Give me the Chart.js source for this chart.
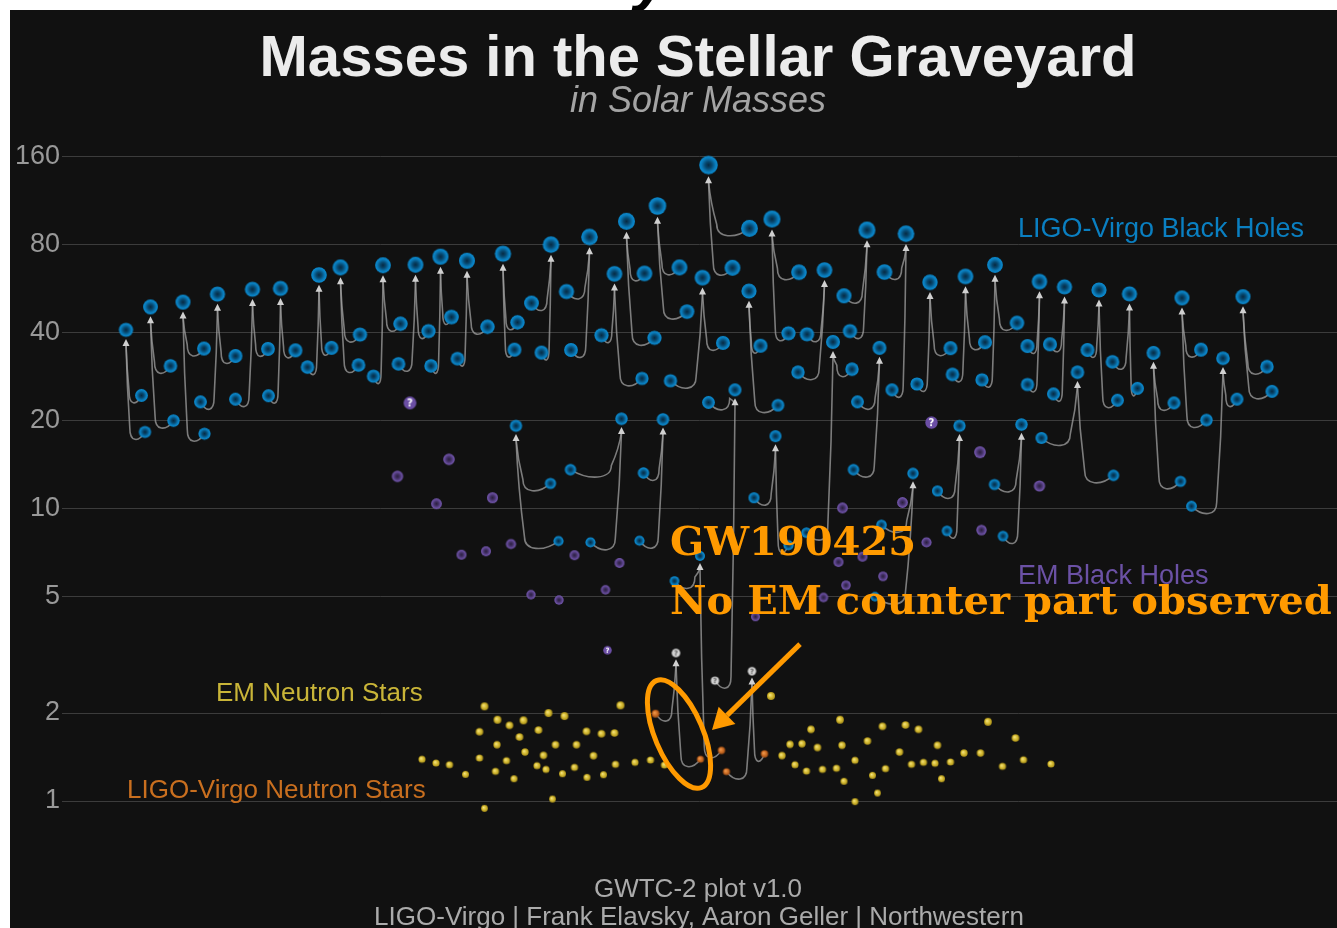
<!DOCTYPE html>
<html>
<head>
<meta charset="utf-8">
<title>Masses in the Stellar Graveyard</title>
<script src="https://cdn.jsdelivr.net/npm/chart.js@4.4.1/dist/chart.umd.min.js"></script>
<style>
  html, body { margin: 0; padding: 0; background: #fff; overflow: hidden; }
  #heading { position: absolute; left: 0; top: 0; width: 1337px; height: 10px; overflow: hidden; }
  #heading span { position: absolute; left: 634px; top: -53px; font: italic bold 62px/62px "Liberation Sans", Arial, sans-serif; color: #000; }
  #wrap { position: absolute; left: 10px; top: 10px; width: 1327px; height: 918px; background: #111; }
  canvas { display: block; }
</style>
</head>
<body>
<div id="heading"><span>y</span></div>
<div id="wrap"><canvas id="graveyard" width="1327" height="918"></canvas></div>
<script>
// y axis ticks (solar masses, log scale)
const massTicks = [1, 2, 5, 10, 20, 40, 80, 160];

// LIGO-Virgo mergers: remnant + the two objects that merged (x = slot in the catalogue)
const mergerFinalX = [12.8, 17.7, 24.2, 31.1, 38.1, 43.7, 51.4, 55.7, 64.2, 70.7, 75.7, 81.0, 88.2, 90.8, 97.8, 105.5, 110.5, 111.9, 112.9, 119.1, 120.2, 122.8, 127.6, 128.1, 129.3, 134.6, 137.4, 138.0, 142.0, 142.7, 152.5, 154.2, 161.0, 163.5, 168.8, 170.2, 173.6, 179.5, 180.7, 186.6, 191.9, 195.5, 200.5, 203.1, 207.4, 213.5, 218.3, 224.0, 232.2, 236.2];
const mergerFinalMass = [40.9, 49.0, 50.9, 54.2, 56.3, 56.7, 63.0, 66.9, 68.0, 68.3, 72.8, 70.5, 74.5, 19.2, 80.0, 85.0, 63.6, 20.3, 96.2, 108.5, 20.2, 3.21, 6.89, 61.7, 149.8, 25.5, 55.5, 2.78, 97.9, 17.7, 65.5, 37.2, 89.8, 35.5, 87.2, 13.2, 59.5, 19.2, 62.3, 68.2, 19.4, 59.8, 57.4, 29.3, 56.0, 54.3, 34.1, 52.6, 32.7, 53.1];
const componentAX = [15.9, 21.7, 28.4, 27.7, 34.7, 41.3, 49.1, 59.6, 62.3, 67.3, 73.8, 79.1, 91.1, 97.7, 93.9, 100.9, 107.9, 101.7, 116.5, 123.5, 116.3, 118.7, 122.5, 121.7, 137.5, 129.3, 139.7, 140.5, 147.4, 138.4, 149.0, 158.0, 156.4, 159.1, 164.5, 163.9, 177.7, 175.1, 184.6, 191.0, 186.5, 193.1, 197.6, 195.9, 205.1, 210.1, 222.4, 227.8, 235.0, 241.0];
const componentAMass = [24.4, 30.8, 35.3, 23.2, 23.7, 24.35, 30.5, 39.4, 28.4, 31.3, 30.8, 32.6, 43.4, 12.2, 50.5, 55.3, 39.2, 13.6, 63.8, 66.9, 13.25, 1.99, 5.66, 27.4, 91.0, 23.1, 36.1, 1.45, 64.4, 10.9, 39.5, 30.0, 53.5, 23.2, 64.5, 8.8, 35.4, 11.5, 37.1, 43.2, 12.1, 36.0, 36.5, 17.45, 34.9, 31.8, 23.0, 35.0, 23.7, 30.6];
const componentBX = [16.6, 22.3, 28.5, 34.7, 41.2, 46.7, 53.9, 59.3, 67.7, 73.3, 77.9, 85.1, 90.5, 99.3, 95.9, 101.8, 116.0, 105.7, 118.5, 125.0, 115.5, 127.7, 131.9, 132.2, 134.1, 130.6, 143.2, 132.9, 145.3, 145.3, 147.2, 148.9, 157.6, 158.3, 166.0, 162.6, 171.0, 177.0, 178.1, 184.0, 188.2, 193.1, 198.3, 210.3, 211.1, 215.1, 223.7, 228.9, 225.9, 242.0];
const componentBMass = [18.3, 20.0, 18.05, 33.3, 35.2, 34.8, 35.5, 31.0, 42.9, 40.5, 45.25, 41.9, 35.0, 7.75, 34.2, 34.9, 27.9, 7.67, 38.4, 47.2, 7.77, 1.39, 1.49, 36.9, 66.7, 2.58, 22.6, 1.26, 39.8, 7.5, 29.3, 8.28, 40.5, 13.6, 25.5, 5.0, 26.7, 8.4, 28.8, 27.6, 8.06, 26.6, 24.7, 13.0, 23.5, 25.8, 12.4, 20.1, 10.2, 25.2];

// black holes seen in X-rays / electromagnetic observations
const emBlackHoleX = [67.1, 77.4, 74.9, 86.1, 79.9, 84.8, 89.8, 102.5, 111.5, 93.8, 99.4, 108.7, 138.7, 152.3, 155.3, 156.8, 156.1, 160.1, 164.2, 168.1, 172.9, 183.6, 183.9, 195.5];
const emBlackHoleMass = [12.9, 14.75, 10.4, 10.9, 6.96, 7.15, 7.57, 6.93, 6.52, 5.08, 4.87, 5.28, 4.27, 4.97, 6.57, 5.47, 10.06, 6.85, 5.87, 10.5, 7.67, 15.6, 8.45, 11.96];
// EM objects of uncertain nature
const emUncertainX = [69.6, 109.1, 173.9];
const emUncertainMass = [23.0, 3.28, 19.7];

// neutron stars from EM observations (pulsars etc.)
const emNeutronStarX = [72.0, 74.8, 77.5, 80.7, 84.5, 83.5, 83.5, 84.5, 87.1, 87.0, 86.7, 89.5, 88.9, 90.4, 92.3, 91.5, 92.6, 95.3, 95.0, 96.3, 96.8, 97.3, 98.7, 100.5, 100.1, 98.1, 102.5, 102.9, 104.9, 105.0, 106.3, 107.9, 108.3, 110.5, 110.7, 111.7, 114.6, 117.7, 120.5, 141.8, 144.0, 145.6, 148.0, 149.8, 146.6, 148.9, 151.1, 152.1, 154.9, 155.6, 156.0, 156.4, 158.6, 158.6, 161.1, 162.1, 163.1, 164.1, 164.7, 167.5, 168.7, 169.9, 171.3, 172.3, 174.6, 175.1, 175.9, 177.7, 180.4, 183.7, 185.2, 188.1, 190.7, 192.3, 197.8];
const emNeutronStarMass = [1.389, 1.349, 1.331, 1.234, 2.108, 1.726, 1.403, 0.944, 1.897, 1.558, 1.263, 1.815, 1.374, 1.192, 1.888, 1.656, 1.471, 1.749, 1.321, 1.433, 1.283, 2.0, 1.558, 1.953, 1.24, 1.016, 1.304, 1.558, 1.731, 1.205, 1.429, 1.699, 1.23, 1.709, 1.335, 2.125, 1.356, 1.381, 1.328, 2.287, 1.43, 1.563, 1.570, 1.759, 1.331, 1.266, 1.524, 1.283, 1.294, 1.897, 1.551, 1.168, 1.378, 0.995, 1.604, 1.224, 1.065, 1.801, 1.29, 1.471, 1.82, 1.335, 1.759, 1.356, 1.346, 1.551, 1.192, 1.36, 1.459, 1.459, 1.867, 1.314, 1.643, 1.384, 1.338];

// GW190425 callout (ring round its two components, arrow from the note)
const ringCentre = { x: 123.4, mass: 1.695 };
const calloutStart = { x: 147.6, mass: 3.44 };
const calloutTip = { x: 130.0, mass: 1.749 };

const ORANGE = '#ff9a00';

// marker size grows slowly with mass
const markRadius = m => 3.4 * Math.pow(m, 0.2);

function ligoKind(m) {
  if (m < 2.4) return 'lvNs';
  if (m < 4.5) return 'lvGap';
  return 'lvBh';
}

const gradients = {
  lvBh: { off: 0, stops: [[0, '#062a43'], [0.35, '#07486f'], [0.75, '#0a7dbd'], [1, '#0b8bd0']] },
  emBh: { off: 0, stops: [[0, '#2a1f3d'], [0.4, '#433166'], [0.8, '#684d9e'], [1, '#7156a8']] },
  emNs: { off: 0.3, stops: [[0, '#f6e78e'], [0.5, '#dcc23a'], [1, '#a88e18']] },
  lvNs: { off: 0.3, stops: [[0, '#f2a35a'], [0.5, '#d6752a'], [1, '#9c4c14']] }
};

const spriteCache = {};
function sprite(kind, m) {
  const r = Math.round(markRadius(m) * 10) / 10;
  const key = kind + r;
  if (spriteCache[key]) return spriteCache[key];
  const size = Math.ceil(r * 2) + 2;
  const c = document.createElement('canvas');
  c.width = c.height = size;
  const g = c.getContext('2d');
  const mid = size / 2;
  g.beginPath();
  g.arc(mid, mid, r, 0, Math.PI * 2);
  if (kind === 'lvGap' || kind === 'emGap') {
    g.fillStyle = kind === 'lvGap' ? '#d2d2d2' : '#6b4ea5';
    g.fill();
    g.fillStyle = kind === 'lvGap' ? '#5e5e5e' : '#ffffff';
    g.font = 'bold ' + Math.round(r * 1.6) + 'px "DejaVu Sans", sans-serif';
    g.textAlign = 'center';
    g.textBaseline = 'middle';
    g.fillText('?', mid, mid + 0.5);
  } else {
    const def = gradients[kind];
    const grad = g.createRadialGradient(mid - def.off * r, mid - def.off * r, 0, mid, mid, r);
    def.stops.forEach(([p, col]) => grad.addColorStop(p, col));
    g.fillStyle = grad;
    g.fill();
  }
  spriteCache[key] = c;
  return c;
}

const pairs = (xs, ms) => xs.map((x, i) => ({ x, y: ms[i] }));

const ligoPoints = [];
mergerFinalX.forEach((x, i) => {
  ligoPoints.push({ x, y: mergerFinalMass[i] });
  ligoPoints.push({ x: componentAX[i], y: componentAMass[i] });
  ligoPoints.push({ x: componentBX[i], y: componentBMass[i] });
});

function markerSet(label, data, kindOf) {
  return {
    label,
    data,
    pointRadius: c => (c.raw ? markRadius(c.raw.y) : 4),
    pointStyle: c => (c.raw ? sprite(kindOf(c.raw.y), c.raw.y) : 'circle')
  };
}

// backdrop and the fixed text round the plot
const backdrop = {
  id: 'backdrop',
  beforeDraw(chart) {
    const { ctx, width, height } = chart;
    ctx.save();
    ctx.fillStyle = '#111';
    ctx.fillRect(0, 0, width, height);
    ctx.textAlign = 'center';
    ctx.fillStyle = '#ececec';
    ctx.font = 'bold 58px "Liberation Sans", Arial, sans-serif';
    ctx.fillText('Masses in the Stellar Graveyard', 688, 66);
    ctx.fillStyle = '#a4a4a4';
    ctx.font = 'italic 36px "Liberation Sans", Arial, sans-serif';
    ctx.fillText('in Solar Masses', 688, 102);
    ctx.fillStyle = '#ababab';
    ctx.font = '26px "Liberation Sans", Arial, sans-serif';
    ctx.fillText('GWTC-2 plot v1.0', 688, 887);
    ctx.fillText('LIGO-Virgo | Frank Elavsky, Aaron Geller | Northwestern', 689, 915);
    ctx.restore();
  }
};

// curved links from each pair of merging objects up to the remnant
const mergerLinks = {
  id: 'mergerLinks',
  beforeDatasetsDraw(chart) {
    const { ctx, scales: { x, y } } = chart;
    ctx.save();
    ctx.lineWidth = 1.6;
    ctx.strokeStyle = 'rgba(160,160,160,0.75)';
    ctx.fillStyle = '#d0d0d0';
    mergerFinalX.forEach((fxv, i) => {
      const fx = x.getPixelForValue(fxv);
      const fy = y.getPixelForValue(mergerFinalMass[i]);
      const top = fy + markRadius(mergerFinalMass[i]) + 3;
      [[componentAX[i], componentAMass[i]], [componentBX[i], componentBMass[i]]].forEach(([cxv, cm]) => {
        const cx = x.getPixelForValue(cxv);
        const cy = y.getPixelForValue(cm);
        const dx = cx - fx;
        const foot = fx + dx * 0.2;
        ctx.beginPath();
        ctx.moveTo(cx, cy);
        ctx.bezierCurveTo(cx - dx * 0.35, cy + 11, foot, cy + 10, foot, cy - 4);
        ctx.quadraticCurveTo(fx + dx * 0.05, (cy + top) / 2, fx, top + 4);
        ctx.stroke();
      });
      ctx.beginPath();
      ctx.moveTo(fx, top - 1);
      ctx.lineTo(fx - 3.5, top + 6);
      ctx.lineTo(fx + 3.5, top + 6);
      ctx.closePath();
      ctx.fill();
    });
    ctx.restore();
  }
};

function drawArrow(ctx, x0, y0, x1, y1, head, half) {
  const a = Math.atan2(y1 - y0, x1 - x0);
  const bx = x1 - head * Math.cos(a);
  const by = y1 - head * Math.sin(a);
  ctx.beginPath();
  ctx.moveTo(x0, y0);
  ctx.lineTo(bx, by);
  ctx.stroke();
  ctx.beginPath();
  ctx.moveTo(x1, y1);
  ctx.lineTo(bx + half * Math.sin(a), by - half * Math.cos(a));
  ctx.lineTo(bx - half * Math.sin(a), by + half * Math.cos(a));
  ctx.closePath();
  ctx.fill();
}

// group labels and the GW190425 note
const annotations = {
  id: 'annotations',
  afterDatasetsDraw(chart) {
    const { ctx, scales: { x, y } } = chart;
    ctx.save();
    ctx.textAlign = 'left';
    ctx.font = '27px "Liberation Sans", Arial, sans-serif';
    ctx.fillStyle = '#0a7fc1';
    ctx.fillText('LIGO-Virgo Black Holes', 1008, 227);
    ctx.fillStyle = '#6b51a5';
    ctx.fillText('EM Black Holes', 1008, 574);
    ctx.font = '26px "Liberation Sans", Arial, sans-serif';
    ctx.fillStyle = '#c9b538';
    ctx.fillText('EM Neutron Stars', 206, 691);
    ctx.fillStyle = '#c96f1f';
    ctx.fillText('LIGO-Virgo Neutron Stars', 117, 788);

    ctx.fillStyle = ORANGE;
    ctx.strokeStyle = ORANGE;
    ctx.font = 'bold 40px "DejaVu Serif", serif';
    ctx.fillText('GW190425', 660, 545);
    ctx.fillText('No EM counter part observed', 660, 604);

    ctx.lineWidth = 5;
    ctx.beginPath();
    ctx.ellipse(x.getPixelForValue(ringCentre.x), y.getPixelForValue(ringCentre.mass), 24, 58, -0.4, 0, Math.PI * 2);
    ctx.stroke();

    drawArrow(ctx,
      x.getPixelForValue(calloutStart.x), y.getPixelForValue(calloutStart.mass),
      x.getPixelForValue(calloutTip.x), y.getPixelForValue(calloutTip.mass), 21, 12);
    ctx.restore();
  }
};

new Chart(document.getElementById('graveyard'), {
  type: 'scatter',
  data: {
    datasets: [
      markerSet('LIGO-Virgo', ligoPoints, ligoKind),
      markerSet('EM Black Holes', pairs(emBlackHoleX, emBlackHoleMass), () => 'emBh'),
      markerSet('EM uncertain', pairs(emUncertainX, emUncertainMass), () => 'emGap'),
      markerSet('EM Neutron Stars', pairs(emNeutronStarX, emNeutronStarMass), () => 'emNs')
    ]
  },
  options: {
    responsive: false,
    animation: false,
    events: [],
    layout: { padding: { top: 130, bottom: 81.7, left: 0, right: 0 }, autoPadding: false },
    plugins: { legend: { display: false }, tooltip: { enabled: false } },
    datasets: { scatter: { clip: false } },
    scales: {
      x: { type: 'linear', min: 0, max: 255, display: false },
      y: {
        type: 'logarithmic',
        min: 0.7,
        max: 182.45,
        afterBuildTicks: s => { s.ticks = massTicks.map(v => ({ value: v })); },
        afterFit: s => { s.width = 52; },
        border: { display: false },
        grid: { color: '#3c3c3c', lineWidth: 1, drawTicks: false },
        ticks: {
          autoSkip: false,
          padding: 2,
          color: '#999999',
          font: { family: '"Liberation Sans", Arial, sans-serif', size: 27 },
          callback: v => String(v)
        }
      }
    }
  },
  plugins: [backdrop, mergerLinks, annotations]
});
</script>
</body>
</html>
